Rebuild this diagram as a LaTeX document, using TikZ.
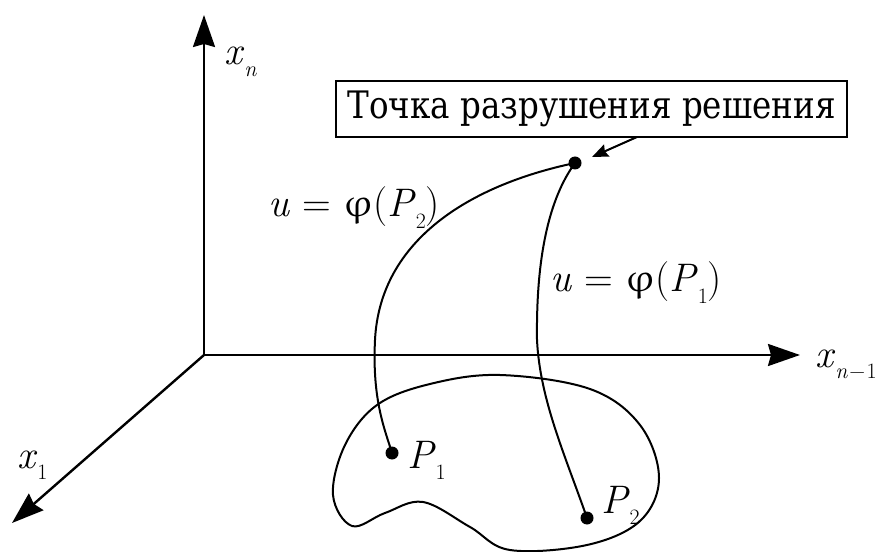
\documentclass[tikz,border=0pt]{standalone}
\usepackage{fontspec}
\usepackage[Euler]{upgreek}
\setmainfont{Latin Modern Roman}
\newfontfamily\boxfont{DejaVu Serif}[FakeStretch=0.86]
\usetikzlibrary{arrows.meta}
\tikzset{
  axis/.style={line width=2.4bp,-{Stealth[length=32bp,width=22bp,inset=3bp]}},
  curve/.style={line width=2bp},
  lbl/.style={inner sep=0pt,anchor=base west,font=\fontsize{40}{48}\selectfont},
  dotpt/.style={circle,fill=black,inner sep=0pt,minimum size=13bp},
  callout/.style={draw,line width=2bp,minimum width=511bp,minimum height=56bp,inner sep=0pt,font=\fontsize{38}{44}\selectfont\boxfont}
}
\newcommand{\sbs}[1]{\raisebox{-0.28em}{\fontsize{22}{24}\selectfont #1}}
\newcommand{\phisym}{$\upvarphi$}
\begin{document}
\begin{tikzpicture}[x=1bp,y=-1bp]
\useasboundingbox (0,0) rectangle (879,552);
% axes
\coordinate (O) at (204,355);
\coordinate (Xn) at (204,15);
\coordinate (Xm) at (800,355);
\coordinate (X1) at (12,523);
\draw[axis] (O) -- (Xn);
\draw[axis] (O) -- (Xm);
\draw[axis] (O) -- (X1);
\node[lbl] (lxn) at (224,65) {\textit{x}\sbs{\textit{n}}};
\node[lbl] (lxm) at (815,367) {\textit{x}\sbs{\textit{n}\kern1.5bp−\kern1.5bp1}};
\node[lbl] (lx1) at (17,468) {\textit{x}\sbs{1}};
% region
\draw[curve] plot[smooth cycle,tension=0.6] coordinates {
  (500,375) (590,389) (640,425) (659,478) (640,521) (587,545) (510,550)
  (470,527) (423,502) (385,513) (352,526) (333,495) (345,445) (377,405) (430,384)};
% points
\node[dotpt] (T) at (575,163) {};
\node[dotpt] (P1) at (392,453) {};
\node[dotpt] (P2) at (587,518) {};
\draw[curve] (T.center) .. controls (470,185) and (380,240) .. (375,340)
  .. controls (372,400) and (385,430) .. (P1.center);
\draw[curve] (T.center) .. controls (548,200) and (536,260) .. (537,340)
  .. controls (540,400) and (565,455) .. (P2.center);
\node[lbl] (lp1) at (407,468) {\textit{P}\sbs{1}};
\node[lbl] (lp2) at (601,513) {\textit{P}\sbs{2}};
\node[lbl] (lu2) at (268,217) {\textit{u} = \phisym(\textit{P}\sbs{2})};
\node[lbl] (lu1) at (550,292) {\textit{u} = \phisym(\textit{P}\sbs{1})};
% callout
\node[callout] (box) at (591.5,109) {Точка разрушения решения};
\coordinate (bx) at (637,137);
\draw[line width=2bp,-{Stealth[length=16bp,width=13bp,inset=2bp]}] (bx) -- (592,157);
\end{tikzpicture}
\end{document}
